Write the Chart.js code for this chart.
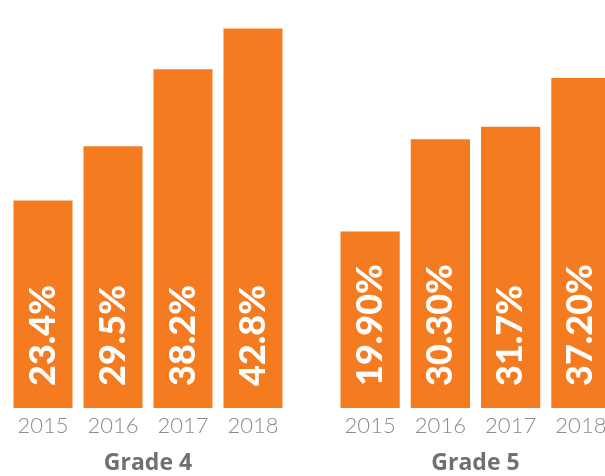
<!DOCTYPE html>
<html>
<head>
<meta charset="utf-8">
<script src="https://cdn.jsdelivr.net/npm/chart.js@4"></script>
<style>
  html, body { margin: 0; padding: 0; overflow: hidden; background: #fff; }
  body { width: 605px; height: 476px; position: relative; }
  canvas { position: absolute; top: 0; }
  #grade4 { left: 8px; }
  #grade5 { left: 335px; }
</style>
</head>
<body>
<canvas id="grade4" width="280" height="476"></canvas>
<canvas id="grade5" width="281" height="476"></canvas>
<script>
const years = ["2015", "2016", "2017", "2018"];
const grade4Values = [23.4, 29.5, 38.2, 42.8];
const grade5Values = [19.9, 30.3, 31.7, 37.2];
// printed exactly as on the chart
const grade4Labels = ["23.4%", "29.5%", "38.2%", "42.8%"];
const grade5Labels = ["19.90%", "30.30%", "31.7%", "37.20%"];

const orange = "#F47B20";

// white rotated value labels sitting near the bottom of each bar
const barLabels = {
  id: "barLabels",
  afterDatasetsDraw(chart) {
    const ctx = chart.ctx;
    const texts = chart.options.plugins.barLabels.texts;
    chart.getDatasetMeta(0).data.forEach((bar, i) => {
      ctx.save();
      ctx.translate(bar.x - 1, bar.base - 22);
      ctx.rotate(-Math.PI / 2);
      ctx.fillStyle = "#fff";
      ctx.font = "900 36px Lato";
      ctx.textAlign = "left";
      ctx.textBaseline = "middle";
      ctx.fillText(texts[i], 0, 1);
      ctx.restore();
    });
  },
};

function makeChart(id, title, values, texts) {
  return new Chart(document.getElementById(id), {
    type: "bar",
    data: {
      labels: years,
      datasets: [
        {
          data: values,
          backgroundColor: orange,
          barPercentage: 0.843,
          categoryPercentage: 1,
        },
      ],
    },
    options: {
      responsive: false,
      animation: false,
      layout: { padding: 0 },
      plugins: {
        legend: { display: false },
        tooltip: { enabled: false },
        barLabels: { texts: texts },
      },
      scales: {
        y: { display: false, min: 0, max: 46 },
        x: {
          grid: { display: false, drawTicks: false },
          border: { display: false },
          afterFit(scale) {
            scale.height = 68;
          },
          ticks: {
            color: "#8a8a8a",
            padding: 5,
            font: { family: "Lato", size: 22, weight: 300 },
          },
          title: {
            display: true,
            text: title,
            color: "#707070",
            padding: { top: 10, bottom: 0 },
            font: { family: "Open Sans", size: 23, weight: "bold", lineHeight: 1.1 },
          },
        },
      },
    },
    plugins: [barLabels],
  });
}

makeChart("grade4", "Grade 4", grade4Values, grade4Labels);
makeChart("grade5", "Grade 5", grade5Values, grade5Labels);
</script>
</body>
</html>
